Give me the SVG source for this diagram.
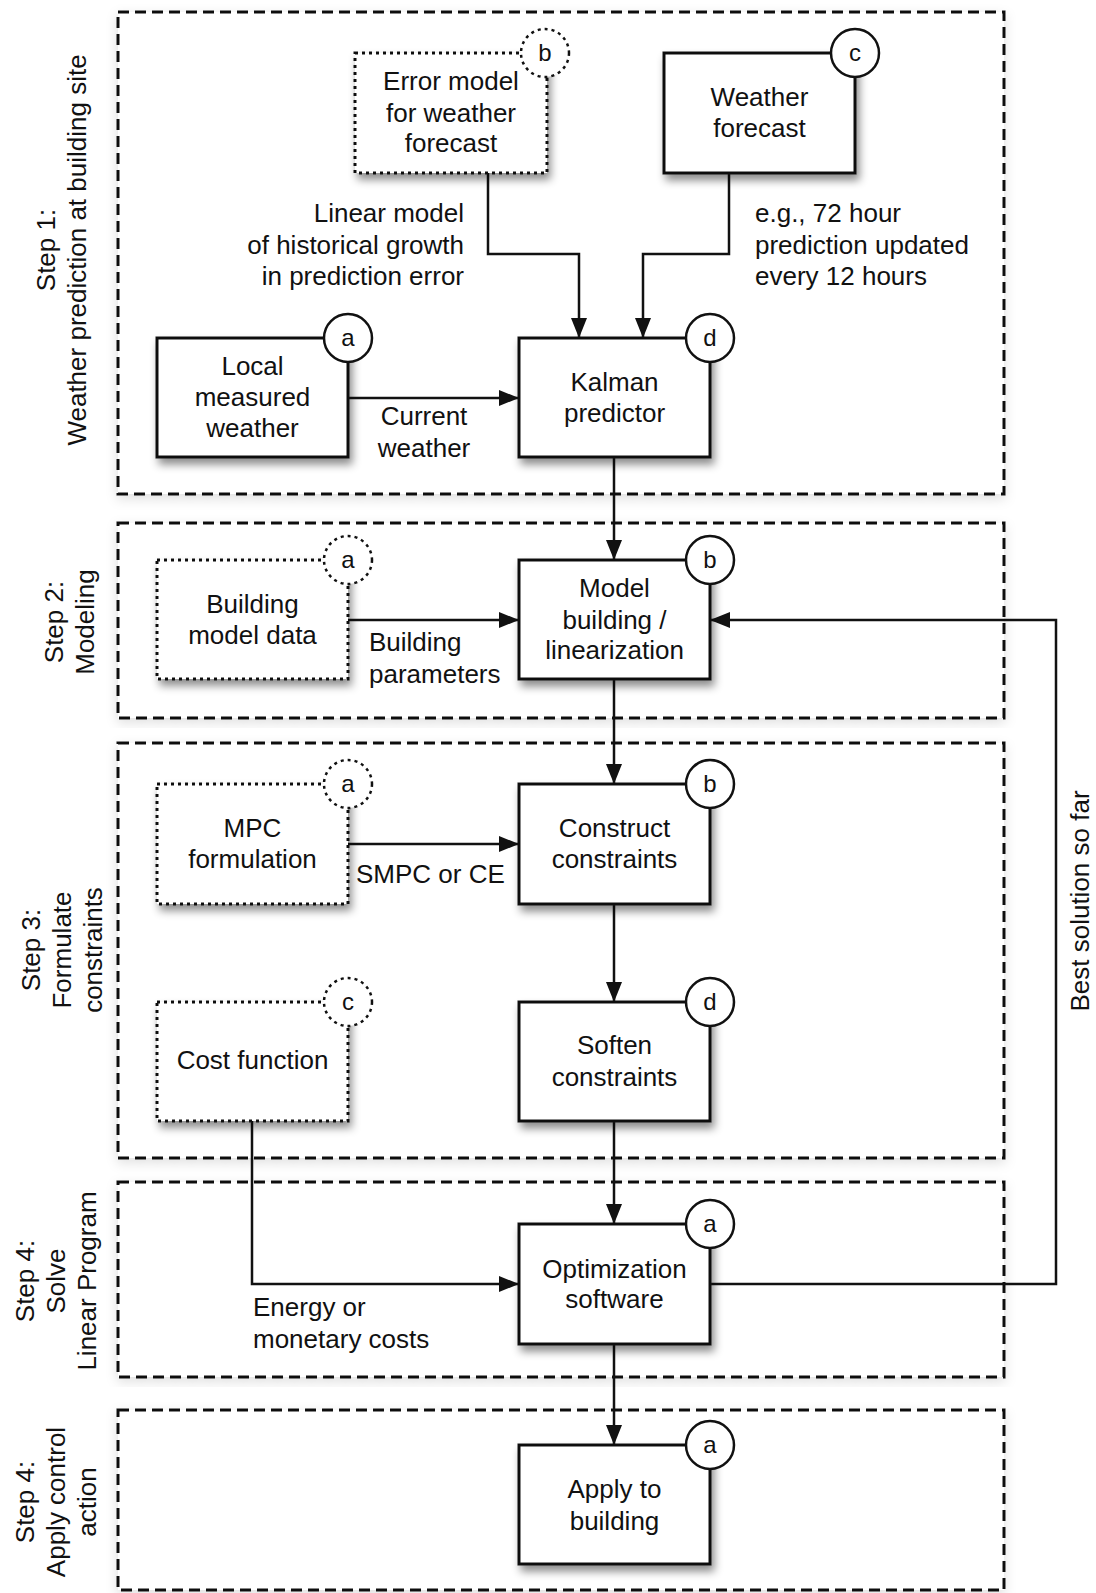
<svg xmlns="http://www.w3.org/2000/svg" width="1096" height="1593" viewBox="0 0 1096 1593">
<style>
text{font-family:"Liberation Sans",Arial,sans-serif;font-size:26px;fill:#111}
.c{text-anchor:middle}
.r{text-anchor:end}
.frame{fill:#fff;stroke:#111;stroke-width:3;stroke-dasharray:11 6}
.box{fill:#fff;stroke:#111;stroke-width:3}
.dot{fill:#fff;stroke:#111;stroke-width:3;stroke-dasharray:3 4}
.tag{fill:#fff;stroke:#111;stroke-width:2.5}
.tagd{fill:#fff;stroke:#111;stroke-width:2.5;stroke-dasharray:3 4}
.tt{font-size:24px;text-anchor:middle}
.con{fill:none;stroke:#111;stroke-width:2.5}
</style>
<defs>
<filter id="sh" x="-20%" y="-20%" width="150%" height="150%">
<feDropShadow dx="3" dy="6" stdDeviation="4" flood-color="#000" flood-opacity="0.45"/>
</filter>
<filter id="fsh" x="-5%" y="-5%" width="110%" height="110%">
<feDropShadow dx="0" dy="4" stdDeviation="6" flood-color="#000" flood-opacity="0.12"/>
</filter>
<marker id="ar" markerUnits="userSpaceOnUse" markerWidth="20" markerHeight="16" refX="20" refY="8" orient="auto">
<path d="M0,0 L20,8 L0,16 z" fill="#111"/>
</marker>
</defs>
<rect width="1096" height="1593" fill="#fff"/>

<g id="frames">
<rect class="frame" filter="url(#fsh)" x="118" y="12" width="886" height="482"/>
<rect class="frame" filter="url(#fsh)" x="118" y="523" width="886" height="195"/>
<rect class="frame" filter="url(#fsh)" x="118" y="743" width="886" height="415"/>
<rect class="frame" filter="url(#fsh)" x="118" y="1182" width="886" height="195"/>
<rect class="frame" filter="url(#fsh)" x="118" y="1410" width="886" height="180"/>
</g>

<g id="step-labels">
<text class="c" transform="translate(55,250) rotate(-90)">Step 1:</text>
<text class="c" transform="translate(86,250) rotate(-90)">Weather prediction at building site</text>
<text class="c" transform="translate(63,622) rotate(-90)">Step 2:</text>
<text class="c" transform="translate(94,622) rotate(-90)">Modeling</text>
<text class="c" transform="translate(40,950) rotate(-90)">Step 3:</text>
<text class="c" transform="translate(71,950) rotate(-90)">Formulate</text>
<text class="c" transform="translate(102,950) rotate(-90)">constraints</text>
<text class="c" transform="translate(34,1281) rotate(-90)">Step 4:</text>
<text class="c" transform="translate(65,1281) rotate(-90)">Solve</text>
<text class="c" transform="translate(96,1281) rotate(-90)">Linear Program</text>
<text class="c" transform="translate(34,1502) rotate(-90)">Step 4:</text>
<text class="c" transform="translate(65,1502) rotate(-90)">Apply control</text>
<text class="c" transform="translate(96,1502) rotate(-90)">action</text>
</g>

<g id="connectors">
<path class="con" marker-end="url(#ar)" d="M488,173 V254 H579 V338"/>
<path class="con" marker-end="url(#ar)" d="M729,173 V254 H643 V338"/>
<path class="con" marker-end="url(#ar)" d="M348,398 H519"/>
<path class="con" marker-end="url(#ar)" d="M614,457 V560"/>
<path class="con" marker-end="url(#ar)" d="M348,620 H519"/>
<path class="con" marker-end="url(#ar)" d="M614,679 V784"/>
<path class="con" marker-end="url(#ar)" d="M348,844 H519"/>
<path class="con" marker-end="url(#ar)" d="M614,904 V1002"/>
<path class="con" marker-end="url(#ar)" d="M614,1121 V1224"/>
<path class="con" marker-end="url(#ar)" d="M252,1121 V1284 H519"/>
<path class="con" marker-end="url(#ar)" d="M710,1284 H1056 V620 H710"/>
<path class="con" marker-end="url(#ar)" d="M614,1344 V1445"/>
</g>

<g id="connector-labels">
<text class="r" x="464" y="222">Linear model</text>
<text class="r" x="464" y="254">of historical growth</text>
<text class="r" x="464" y="285">in prediction error</text>
<text x="755" y="222">e.g., 72 hour</text>
<text x="755" y="254">prediction updated</text>
<text x="755" y="285">every 12 hours</text>
<text class="c" x="424" y="425">Current</text>
<text class="c" x="424" y="457">weather</text>
<text x="369" y="651">Building</text>
<text x="369" y="683">parameters</text>
<text x="356" y="883">SMPC or CE</text>
<text x="253" y="1316">Energy or</text>
<text x="253" y="1348">monetary costs</text>
<text class="c" transform="translate(1089,901) rotate(-90)">Best solution so far</text>
</g>

<g id="error-model">
<rect class="dot" filter="url(#sh)" x="355" y="53" width="192" height="120"/>
<text class="c" x="451" y="90">Error model</text>
<text class="c" x="451" y="122">for weather</text>
<text class="c" x="451" y="152">forecast</text>
<circle class="tagd" cx="545" cy="53" r="24"/>
<text class="tt" x="545" y="61">b</text>
</g>

<g id="weather-forecast">
<rect class="box" filter="url(#sh)" x="664" y="53" width="191" height="120"/>
<text class="c" x="759.5" y="106">Weather</text>
<text class="c" x="759.5" y="137">forecast</text>
<circle class="tag" cx="855" cy="53" r="24"/>
<text class="tt" x="855" y="61">c</text>
</g>

<g id="local-weather">
<rect class="box" filter="url(#sh)" x="157" y="338" width="191" height="119"/>
<text class="c" x="252.5" y="375">Local</text>
<text class="c" x="252.5" y="406">measured</text>
<text class="c" x="252.5" y="437">weather</text>
<circle class="tag" cx="348" cy="338" r="24"/>
<text class="tt" x="348" y="346">a</text>
</g>

<g id="kalman">
<rect class="box" filter="url(#sh)" x="519" y="338" width="191" height="119"/>
<text class="c" x="614.5" y="391">Kalman</text>
<text class="c" x="614.5" y="422">predictor</text>
<circle class="tag" cx="710" cy="338" r="24"/>
<text class="tt" x="710" y="346">d</text>
</g>

<g id="building-model-data">
<rect class="dot" filter="url(#sh)" x="157" y="560" width="191" height="119"/>
<text class="c" x="252.5" y="613">Building</text>
<text class="c" x="252.5" y="644">model data</text>
<circle class="tagd" cx="348" cy="560" r="24"/>
<text class="tt" x="348" y="568">a</text>
</g>

<g id="model-building">
<rect class="box" filter="url(#sh)" x="519" y="560" width="191" height="119"/>
<text class="c" x="614.5" y="597">Model</text>
<text class="c" x="614.5" y="629">building /</text>
<text class="c" x="614.5" y="659">linearization</text>
<circle class="tag" cx="710" cy="560" r="24"/>
<text class="tt" x="710" y="568">b</text>
</g>

<g id="mpc-formulation">
<rect class="dot" filter="url(#sh)" x="157" y="784" width="191" height="120"/>
<text class="c" x="252.5" y="837">MPC</text>
<text class="c" x="252.5" y="868">formulation</text>
<circle class="tagd" cx="348" cy="784" r="24"/>
<text class="tt" x="348" y="792">a</text>
</g>

<g id="construct-constraints">
<rect class="box" filter="url(#sh)" x="519" y="784" width="191" height="120"/>
<text class="c" x="614.5" y="837">Construct</text>
<text class="c" x="614.5" y="868">constraints</text>
<circle class="tag" cx="710" cy="784" r="24"/>
<text class="tt" x="710" y="792">b</text>
</g>

<g id="cost-function">
<rect class="dot" filter="url(#sh)" x="157" y="1002" width="191" height="119"/>
<text class="c" x="252.5" y="1069">Cost function</text>
<circle class="tagd" cx="348" cy="1002" r="24"/>
<text class="tt" x="348" y="1010">c</text>
</g>

<g id="soften-constraints">
<rect class="box" filter="url(#sh)" x="519" y="1002" width="191" height="119"/>
<text class="c" x="614.5" y="1054">Soften</text>
<text class="c" x="614.5" y="1086">constraints</text>
<circle class="tag" cx="710" cy="1002" r="24"/>
<text class="tt" x="710" y="1010">d</text>
</g>

<g id="optimization-software">
<rect class="box" filter="url(#sh)" x="519" y="1224" width="191" height="120"/>
<text class="c" x="614.5" y="1278">Optimization</text>
<text class="c" x="614.5" y="1308">software</text>
<circle class="tag" cx="710" cy="1224" r="24"/>
<text class="tt" x="710" y="1232">a</text>
</g>

<g id="apply-to-building">
<rect class="box" filter="url(#sh)" x="519" y="1445" width="191" height="119"/>
<text class="c" x="614.5" y="1498">Apply to</text>
<text class="c" x="614.5" y="1530">building</text>
<circle class="tag" cx="710" cy="1445" r="24"/>
<text class="tt" x="710" y="1453">a</text>
</g>
</svg>
